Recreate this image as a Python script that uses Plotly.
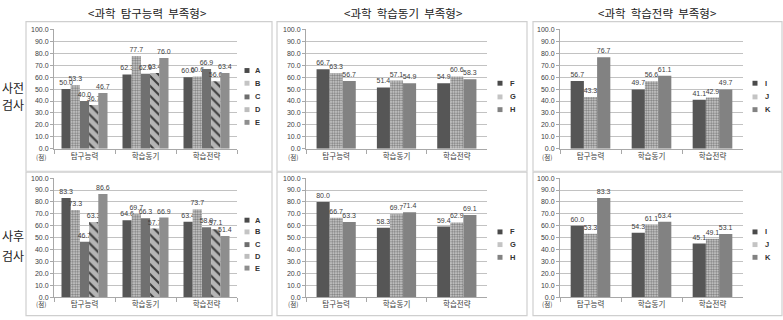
import plotly.graph_objects as go

W, H = 783, 320

# ---------------- data ----------------
categories = ["탐구능력", "학습동기", "학습전략"]
panel_titles = ["<과학\u00a0\u00a0탐구능력\u00a0\u00a0부족형>", "<과학\u00a0\u00a0학습동기\u00a0\u00a0부족형>", "<과학\u00a0\u00a0학습전략\u00a0\u00a0부족형>"]
row_titles = [("사전", "검사"), ("사후", "검사")]
unit_label = "(점)"

series_inquiry = ["A", "B", "C", "D", "E"]
series_motivation = ["F", "G", "H"]
series_strategy = ["I", "J", "K"]

pre_inquiry = [
    [50.0, 62.3, 60.0],
    [53.3, 77.7, 60.6],
    [40.0, 62.9, 66.9],
    [36.7, 63.4, 56.6],
    [46.7, 76.0, 63.4],
]
pre_motivation = [
    [66.7, 51.4, 54.9],
    [63.3, 57.1, 60.6],
    [56.7, 54.9, 58.3],
]
pre_strategy = [
    [56.7, 49.7, 41.1],
    [43.3, 56.6, 42.9],
    [76.7, 61.1, 49.7],
]
post_inquiry = [
    [83.3, 64.6, 63.4],
    [73.3, 69.7, 73.7],
    [46.7, 66.3, 58.9],
    [63.3, 57.7, 57.1],
    [86.6, 66.9, 51.4],
]
post_motivation = [
    [80.0, 58.3, 59.4],
    [66.7, 69.7, 62.9],
    [63.3, 71.4, 69.1],
]
post_strategy = [
    [60.0, 54.3, 45.1],
    [53.3, 61.1, 49.1],
    [83.3, 63.4, 53.1],
]

# ---------------- styles ----------------
SPECKLE = dict(color="#7a7a7a", pattern=dict(shape=".", bgcolor="#d4d4d4", fgcolor="#7a7a7a", size=2.5, solidity=0.5, fillmode="replace"))
ROCK = dict(color="#3c3c3c", pattern=dict(shape="\\", bgcolor="#b5b5b5", fgcolor="#3c3c3c", size=7, solidity=0.3, fillmode="replace"))
styles5 = [dict(color="#565656"), SPECKLE, dict(color="#707070"), ROCK, dict(color="#8e8e8e")]
styles3 = [dict(color="#565656"), SPECKLE, dict(color="#828282")]
legend_colors5 = ["#4a4a4a", "#c4c4c4", "#6e6e6e", "#bdbdbd", "#8e8e8e"]
legend_colors3 = ["#4a4a4a", "#c4c4c4", "#828282"]

col_x = [(54, 237), (306, 487), (560, 743)]
row_y = [(148, 26), (300, 178)]  # (zero, hundred) pixel rows
boxes_x = [(26, 272), (277, 527), (533, 782)]
boxes_y = [(18, 171), (172, 318.5)]
title_cx = [147, 403, 657]
legend_x = [(247, 253), (500, 508), (755, 763)]
legend_y = {(0, 5): [68, 81, 95, 108, 121], (0, 3): [81, 95, 108],
            (1, 5): [221, 233, 246, 258, 270], (1, 3): [233, 246, 259]}


def fx(px):
    return px / W


def fy(py):
    return 1 - py / H


panels = [
    (pre_inquiry, series_inquiry, 0, 0),
    (pre_motivation, series_motivation, 0, 1),
    (pre_strategy, series_strategy, 0, 2),
    (post_inquiry, series_inquiry, 1, 0),
    (post_motivation, series_motivation, 1, 1),
    (post_strategy, series_strategy, 1, 2),
]

fig = go.Figure()
shapes = []
annotations = []
TXT = "#404040"
AXC = "#a8a8a8"
KFONT = "Noto Sans CJK KR"
LFONT = "Liberation Sans"


def note(text, px, py, size, color, family=KFONT, xanchor="center"):
    return dict(text=text, x=fx(px), y=fy(py), xref="paper", yref="paper",
                xanchor=xanchor, yanchor="middle", showarrow=False,
                font=dict(family=family, size=size, color=color))


for k, (vals, names, r, c) in enumerate(panels, start=1):
    xa = "x" if k == 1 else f"x{k}"
    ya = "y" if k == 1 else f"y{k}"
    n = len(names)
    group = 0.754 if n == 5 else 0.65
    bw = group / n
    styles = styles5 if n == 5 else styles3
    for i, (name, v) in enumerate(zip(names, vals)):
        fig.add_trace(go.Bar(
            x=categories, y=v, name=name, xaxis=xa, yaxis=ya,
            width=bw, offset=-group / 2 + i * bw,
            marker=dict(line=dict(width=0), **styles[i]),
            texttemplate="%{y:.1f}", textposition="outside",
            textfont=dict(family=LFONT, size=7, color=TXT),
            constraintext="none", cliponaxis=False, showlegend=False,
        ))
    x0, x1 = col_x[c]
    z, hnd = row_y[r]
    fig.layout[("xaxis" if k == 1 else f"xaxis{k}")] = dict(
        domain=[fx(x0), fx(x1)], anchor=ya, range=[-0.5, 2.5],
        showline=True, linecolor=AXC, linewidth=1, ticks="outside", tickson="boundaries",
        ticklen=4, tickcolor=AXC, showgrid=False,
        tickfont=dict(family=KFONT, size=7.5, color=TXT), fixedrange=True,
    )
    fig.layout[("yaxis" if k == 1 else f"yaxis{k}")] = dict(
        domain=[fy(z), fy(hnd)], anchor=xa, range=[0, 100], dtick=10, tickformat=".1f",
        showgrid=True, gridcolor="#c2c2c2", gridwidth=1, zeroline=False,
        showline=True, linecolor=AXC, ticks="outside", ticklen=3, tickcolor=AXC,
        tickfont=dict(family=LFONT, size=7, color=TXT), fixedrange=True,
    )
    # unit label
    annotations.append(note(unit_label, x0 - 13, z + (8 if r == 0 else 7), 6.5, TXT))
    # legend
    lx, tx = legend_x[c]
    lcols = legend_colors5 if n == 5 else legend_colors3
    for name, col, ly in zip(names, lcols, legend_y[(r, n)]):
        shapes.append(dict(type="rect", xref="paper", yref="paper",
                           x0=fx(lx - 2.5), x1=fx(lx + 2.5), y0=fy(ly + 2.5), y1=fy(ly - 2.5),
                           fillcolor=col, line=dict(width=0)))
        annotations.append(note(f"<b>{name}</b>", tx, ly, 7.5, "#333333", family=LFONT, xanchor="left"))

# panel boxes
for (by0, by1) in boxes_y:
    for (bx0, bx1) in boxes_x:
        shapes.append(dict(type="rect", xref="paper", yref="paper",
                           x0=fx(bx0), x1=fx(bx1), y0=fy(by1), y1=fy(by0),
                           line=dict(color="#cfcfcf", width=1.2), fillcolor="rgba(0,0,0,0)", layer="below"))

# titles
for t, cx in zip(panel_titles, title_cx):
    annotations.append(note(t, cx, 9.5, 11.5, "#222222"))

# row labels
row_label_y = [(85, 103), (237, 257)]
for (l1, l2), (y1, y2) in zip(row_titles, row_label_y):
    for txt, yy in ((l1, y1), (l2, y2)):
        annotations.append(note(txt, 13, yy, 12, "#222222"))

fig.update_layout(
    width=W, height=H, margin=dict(l=0, r=0, t=0, b=0),
    paper_bgcolor="white", plot_bgcolor="white",
    barmode="overlay", showlegend=False,
    shapes=shapes, annotations=annotations,
)

fig.write_html("out.html", config={"displayModeBar": False})
